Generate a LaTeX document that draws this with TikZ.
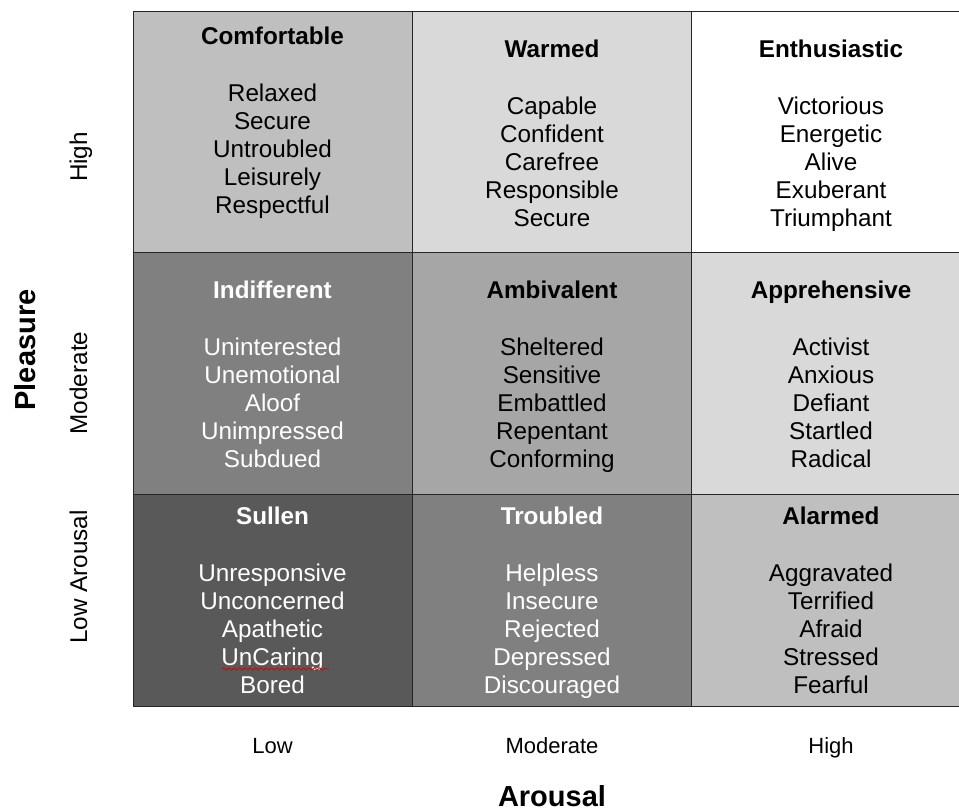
\documentclass[tikz,border=0pt]{standalone}
\usepackage{fontspec}
\setmainfont{Liberation Sans}
\usetikzlibrary{positioning,decorations.pathmorphing}

\begin{document}
\begin{tikzpicture}[x=0.75pt,y=0.75pt,
	box/.style={draw=black!85,line width=0.75pt},
	words/.style={anchor=north,align=center,inner sep=0pt,font=\fontsize{18.2}{21}\selectfont},
	axis/.style={anchor=base,inner sep=0pt,font=\fontsize{16.5}{19}\selectfont},
	side/.style={anchor=base,rotate=90,inner sep=0pt,font=\fontsize{18.2}{21}\selectfont},
	big/.style={anchor=base,inner sep=0pt,font=\fontsize{21.75}{25}\selectfont\bfseries}]
		\useasboundingbox (0,0) rectangle (959,-812);
		\clip (0,0) rectangle (959,-812);
		% the nine cells
		\filldraw[box,fill=black!25] (133,-12) rectangle (412,-253); \filldraw[box,fill=black!15] (412,-12) rectangle (691,-253); \filldraw[box,fill=white] (691,-12) rectangle (970,-253);
		\filldraw[box,fill=black!50] (133,-253) rectangle (412,-494); \filldraw[box,fill=black!35] (412,-253) rectangle (691,-494); \filldraw[box,fill=black!15] (691,-253) rectangle (970,-494);
		\filldraw[box,fill=black!65] (133,-494) rectangle (412,-706); \filldraw[box,fill=black!50] (412,-494) rectangle (691,-706); \filldraw[box,fill=black!25] (691,-494) rectangle (970,-706);
		
		\node[words] (comfortable) at (272.5,-24.4) {\textbf{\strut Comfortable}\\[21.75pt] Relaxed\\ Secure\\ Untroubled\\ Leisurely\\ Respectful};
		\node[words] (warmed) at (552,-38) {\textbf{\strut Warmed}\\[21.75pt] Capable\\ Confident\\ Carefree\\ Responsible\\ Secure};
		\node[words] (enthusiastic) at (831,-38) {\textbf{\strut Enthusiastic}\\[21.75pt] Victorious\\ Energetic\\ Alive\\ Exuberant\\ Triumphant};
		
		\node[words,text=white] (indifferent) at (272.5,-279) {\textbf{\strut Indifferent}\\[21.75pt] Uninterested\\ Unemotional\\ Aloof\\ Unimpressed\\ Subdued};
		\node[words] (ambivalent) at (552,-279) {\textbf{\strut Ambivalent}\\[21.75pt] Sheltered\\ Sensitive\\ Embattled\\ Repentant\\ Conforming};
		\node[words] (apprehensive) at (831,-279) {\textbf{\strut Apprehensive}\\[21.75pt] Activist\\ Anxious\\ Defiant\\ Startled\\ Radical};
		
		\node[words,text=white] (sullen) at (272.5,-505) {\textbf{\strut Sullen}\\[21.75pt] Unresponsive\\ Unconcerned\\ Apathetic\\ UnCaring\\ Bored};
		\node[words,text=white] (troubled) at (552,-505) {\textbf{\strut Troubled}\\[21.75pt] Helpless\\ Insecure\\ Rejected\\ Depressed\\ Discouraged};
		\node[words] (alarmed) at (831,-505) {\textbf{\strut Alarmed}\\[21.75pt] Aggravated\\ Terrified\\ Afraid\\ Stressed\\ Fearful};
		
		\coordinate (wave start) at (222,-669); \coordinate (wave end) at (329,-669);
		\draw[red!85!black,line width=0.6pt,decorate,decoration={snake,amplitude=0.9pt,segment length=4pt}] (wave start) -- (wave end);
		
		% axes
		\node[axis] (low) at (272.5,-753) {Low}; \node[axis] (moderate) at (552,-753) {Moderate}; \node[axis] (high) at (831,-753) {High};
		\node[big] (arousal) at (552,-806) {Arousal};
		\node[side] (high side) at (87,-157) {High}; \node[side] (moderate side) at (87,-383) {Moderate}; \node[side] (low side) at (87,-577) {Low Arousal};
		\node[big,rotate=90] (pleasure) at (35,-350) {Pleasure};
	\end{tikzpicture}
\end{document}
